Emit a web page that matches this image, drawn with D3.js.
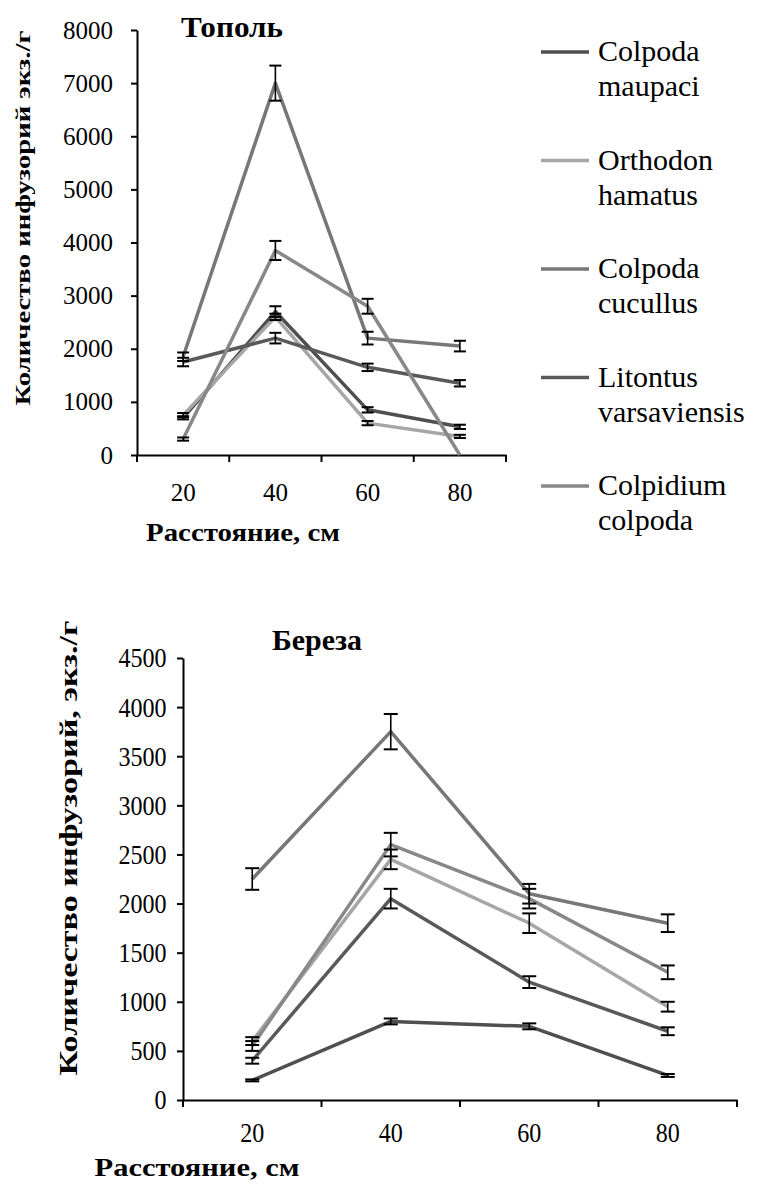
<!DOCTYPE html>
<html>
<head>
<meta charset="utf-8">
<script src="https://cdn.jsdelivr.net/npm/d3@7"></script>
<style>
  body { margin: 0; background: #fff; }
</style>
</head>
<body>
<svg id="chart" width="758" height="1185"></svg>
<script>
const FONT = "Liberation Serif";

// categories and legend
const distances = ["20", "40", "60", "80"];
const speciesNames = ["Colpoda maupaci", "Orthodon hamatus", "Colpoda cucullus", "Litontus varsaviensis", "Colpidium colpoda"];
const legendLines = [["Colpoda", "maupaci"], ["Orthodon", "hamatus"], ["Colpoda", "cucullus"], ["Litontus", "varsaviensis"], ["Colpidium", "colpoda"]];
const seriesColors = ["#4f4f4f", "#a6a6a6", "#777777", "#595959", "#888888"];

// Тополь (poplar) values and errors, same order as speciesNames
const poplarMaupaci = [700, 2700, 850, 530];
const poplarOrthodon = [750, 2600, 600, 350];
const poplarCucullus = [1850, 7000, 2200, 2050];
const poplarLitontus = [1750, 2200, 1650, 1350];
const poplarColpidium = [300, 3850, 2800, 0];
const poplarMaupaciErr = [30, 100, 50, 40];
const poplarOrthodonErr = [40, 60, 40, 30];
const poplarCucullusErr = [80, 330, 120, 100];
const poplarLitontusErr = [80, 100, 70, 60];
const poplarColpidiumErr = [30, 180, 140, 0];
const poplarTicks = [0, 1000, 2000, 3000, 4000, 5000, 6000, 7000, 8000];

// Береза (birch)
const birchMaupaci = [200, 800, 750, 250];
const birchOrthodon = [600, 2450, 1800, 950];
const birchCucullus = [2250, 3750, 2100, 1800];
const birchLitontus = [400, 2050, 1200, 700];
const birchColpidium = [550, 2600, 2050, 1300];
const birchMaupaciErr = [10, 30, 30, 15];
const birchOrthodonErr = [40, 100, 100, 50];
const birchCucullusErr = [110, 180, 100, 90];
const birchLitontusErr = [30, 100, 60, 40];
const birchColpidiumErr = [50, 120, 100, 70];
const birchTicks = [0, 500, 1000, 1500, 2000, 2500, 3000, 3500, 4000, 4500];

const svg = d3.select("#chart");

function buildSeries(values, errors) {
    return speciesNames.map((name, i) => ({
        name: name,
        color: seriesColors[i],
        points: distances.map((d, j) => ({ x: d, v: values[i][j], e: errors[i][j] }))
    }));
}

function styleTickText(sel, cfg) {
    sel.attr("fill", "#000")
        .attr("font-family", FONT)
        .attr("font-size", cfg.tickFont)
        .attr("transform", cfg.squeeze ? `scale(${cfg.squeeze},1)` : null);
}

function drawChart(cfg) {
    const g = svg.append("g").attr("transform", `translate(${cfg.left},${cfg.top})`);

    const xScale = d3.scaleBand().domain(distances).range([0, cfg.width]);
    const yScale = d3.scaleLinear().domain([0, cfg.ymax]).range([cfg.height, 0]);

    // y axis
    const yAxis = d3.axisLeft(yScale).tickValues(cfg.ticks).tickFormat(d3.format("d"))
        .tickSize(6).tickSizeOuter(0).tickPadding(cfg.yPad);
    const ya = g.append("g").call(yAxis);
    ya.select(".domain").attr("stroke", "#000").attr("stroke-width", 2);
    ya.selectAll(".tick line").attr("stroke", "#000").attr("stroke-width", 2);
    ya.selectAll(".tick text").call(styleTickText, cfg);

    // x axis: labels in the middle of each category, ticks on the borders
    const xAxis = d3.axisBottom(xScale).tickSize(0).tickSizeOuter(0).tickPadding(cfg.xPad);
    const xa = g.append("g").attr("transform", `translate(0,${cfg.height})`).call(xAxis);
    xa.select(".domain").attr("stroke", "#000").attr("stroke-width", 2);
    xa.selectAll(".tick text").call(styleTickText, cfg);
    const borders = d3.range(distances.length + 1).map(i => i * xScale.step());
    xa.selectAll(".border")
        .data(borders)
        .enter()
        .append("line")
        .attr("x1", d => d).attr("x2", d => d)
        .attr("y1", 0).attr("y2", 7)
        .attr("stroke", "#000").attr("stroke-width", 2);

    const cx = d => xScale(d.x) + xScale.bandwidth() / 2;
    const line = d3.line().x(cx).y(d => yScale(d.v));

    // series lines
    g.selectAll(".series")
        .data(cfg.series)
        .enter()
        .append("path")
        .attr("d", d => line(d.points))
        .attr("fill", "none")
        .attr("stroke", d => d.color)
        .attr("stroke-width", 3.5)
        .attr("stroke-linejoin", "round");

    // error bars
    const allPts = cfg.series.flatMap(s => s.points).filter(p => p.e > 0);
    const eb = g.selectAll(".err").data(allPts).enter().append("g");
    eb.append("line")
        .attr("x1", cx).attr("x2", cx)
        .attr("y1", d => yScale(d.v - d.e)).attr("y2", d => yScale(d.v + d.e))
        .attr("stroke", "#000").attr("stroke-width", 1.6);
    eb.append("line")
        .attr("x1", d => cx(d) - cfg.cap).attr("x2", d => cx(d) + cfg.cap)
        .attr("y1", d => yScale(d.v + d.e)).attr("y2", d => yScale(d.v + d.e))
        .attr("stroke", "#000").attr("stroke-width", 2);
    eb.append("line")
        .attr("x1", d => cx(d) - cfg.cap).attr("x2", d => cx(d) + cfg.cap)
        .attr("y1", d => yScale(d.v - d.e)).attr("y2", d => yScale(d.v - d.e))
        .attr("stroke", "#000").attr("stroke-width", 2);

    // titles
    svg.append("text")
        .attr("x", cfg.titleX).attr("y", cfg.titleY)
        .attr("text-anchor", "middle")
        .attr("font-family", FONT)
        .attr("font-size", cfg.titleFont).attr("font-weight", "bold")
        .attr("textLength", cfg.titleLen).attr("lengthAdjust", "spacingAndGlyphs")
        .text(cfg.title);

    svg.append("text")
        .attr("transform", `translate(${cfg.yTitleX},${cfg.yTitleY}) rotate(-90)`)
        .attr("text-anchor", "middle")
        .attr("font-family", FONT)
        .attr("font-size", cfg.yTitleFont).attr("font-weight", "bold")
        .attr("textLength", cfg.yTitleLen).attr("lengthAdjust", "spacingAndGlyphs")
        .text(cfg.yTitle);

    svg.append("text")
        .attr("x", cfg.xTitleX).attr("y", cfg.xTitleY)
        .attr("text-anchor", "middle")
        .attr("font-family", FONT)
        .attr("font-size", cfg.xTitleFont).attr("font-weight", "bold")
        .attr("textLength", cfg.xTitleLen).attr("lengthAdjust", "spacingAndGlyphs")
        .text("Расстояние, см");
}

drawChart({
    left: 137, top: 30, width: 369, height: 425, ymax: 8000,
    ticks: poplarTicks, tickFont: 25, yPad: 18, xPad: 28, cap: 6,
    series: buildSeries(
        [poplarMaupaci, poplarOrthodon, poplarCucullus, poplarLitontus, poplarColpidium],
        [poplarMaupaciErr, poplarOrthodonErr, poplarCucullusErr, poplarLitontusErr, poplarColpidiumErr]),
    title: "Тополь", titleX: 232, titleY: 37, titleFont: 30, titleLen: 102,
    yTitle: "Количество инфузорий экз./г", yTitleX: 30, yTitleY: 218, yTitleFont: 22, yTitleLen: 375,
    xTitleX: 243, xTitleY: 541, xTitleFont: 25, xTitleLen: 194
});

drawChart({
    left: 183, top: 658, width: 554, height: 442, ymax: 4500,
    ticks: birchTicks, tickFont: 28, yPad: 13, xPad: 22, cap: 7, squeeze: 0.86,
    series: buildSeries(
        [birchMaupaci, birchOrthodon, birchCucullus, birchLitontus, birchColpidium],
        [birchMaupaciErr, birchOrthodonErr, birchCucullusErr, birchLitontusErr, birchColpidiumErr]),
    title: "Береза", titleX: 317, titleY: 650, titleFont: 30, titleLen: 90,
    yTitle: "Количество инфузорий, экз./г", yTitleX: 77, yTitleY: 848, yTitleFont: 26, yTitleLen: 455,
    xTitleX: 197, xTitleY: 1176, xTitleFont: 26, xTitleLen: 205
});

// legend for the top chart
const legend = svg.append("g").attr("transform", "translate(541,52)");
const rows = legend.selectAll(".row")
    .data(legendLines)
    .enter()
    .append("g")
    .attr("transform", (d, i) => `translate(0,${i * 108.5})`);
rows.append("line")
    .attr("x1", 0).attr("x2", 48)
    .attr("y1", 0).attr("y2", 0)
    .attr("stroke", (d, i) => seriesColors[i])
    .attr("stroke-width", 3.5);
rows.append("text")
    .attr("x", 57).attr("y", 9)
    .attr("font-family", FONT).attr("font-size", 30)
    .text(d => d[0]);
rows.append("text")
    .attr("x", 57).attr("y", 44)
    .attr("font-family", FONT).attr("font-size", 30)
    .text(d => d[1]);
</script>
</body>
</html>
